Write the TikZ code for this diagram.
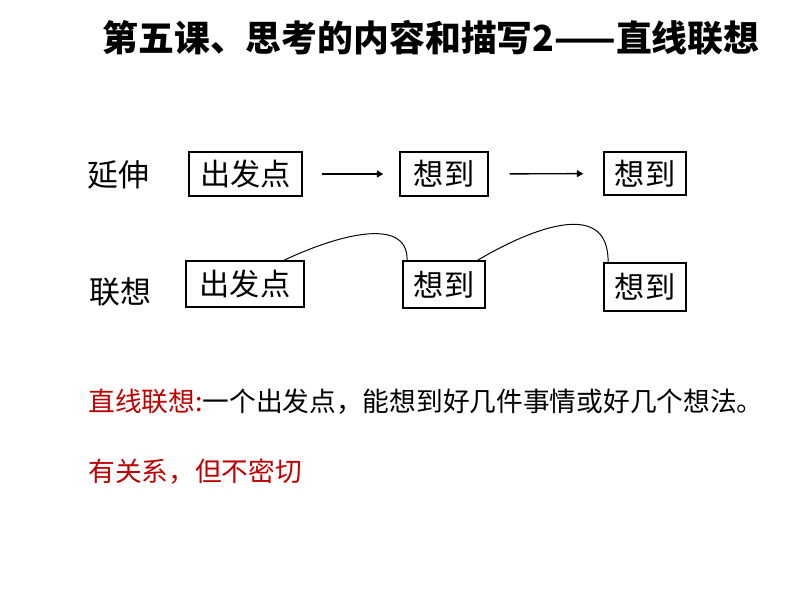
\documentclass[tikz,border=0pt]{standalone}
\usepackage{fontspec}
\usetikzlibrary{arrows.meta}
\newfontfamily\cjk{Noto Sans CJK SC}
\definecolor{linkred}{RGB}{192,0,0}

\begin{document}
\begin{tikzpicture}[x=0.025cm, y=-0.025cm,
	box/.style={draw, line width=1pt, inner sep=0pt, font=\cjk\fontsize{21.5}{21.5}\selectfont},
	rowlabel/.style={font=\cjk\fontsize{22}{22}\selectfont},
	note/.style={anchor=west, inner sep=0pt, font=\cjk\fontsize{19}{19}\selectfont},
	link/.style={line width=0.7pt},
	push/.style={-{Triangle[length=1.6mm,width=1.7mm]}, line width=1pt}]
	\useasboundingbox (0,0) rectangle (800,600);

	\node[font=\cjk\bfseries\fontsize{25.5}{25.5}\selectfont] at (431,38) (title) {第五课、思考的内容和描写2——直线联想};

	% Zeile 1
	\node[rowlabel] at (118,175) (ext) {延伸};
	\node[box, minimum width=2.83cm, minimum height=1.1cm] at (245.5,174) (s1) {出发点};
	\node[box, minimum width=2.2cm, minimum height=1.1cm] at (444,174) (a1) {想到};
	\node[box, minimum width=2.05cm, minimum height=1.08cm] at (645,173.5) (b1) {想到};

	\draw[push, shorten <=0.47cm, shorten >=0.4cm] (s1) -- (a1);
	\draw[push, shorten <=0.52cm, shorten >=0.5cm] (a1) -- (b1);

	% Zeile 2
	\node[rowlabel] at (120,292) (assoc) {联想};
	\node[box, minimum width=2.95cm, minimum height=1.15cm] at (245,284) (s2) {出发点};
	\node[box, minimum width=2.05cm, minimum height=1.18cm] at (444,284.5) (a2) {想到};
	\node[box, minimum width=2.05cm, minimum height=1.2cm] at (645,287) (b2) {想到};

	\draw[link] ([xshift=-0.52cm]s2.north east) .. controls (335,236) and (408,215) .. ([xshift=0.12cm]a2.north west);
	\draw[link] ([xshift=-0.2cm]a2.north east) .. controls (525,232) and (609,195) .. ([xshift=0.12cm]b2.north west);

	\node[note] at (88,402) (def) {\textcolor{linkred}{直线联想:}一个出发点，能想到好几件事情或好几个想法。};
	\node[note, text=linkred] at (88,472) (rel) {有关系，但不密切};
\end{tikzpicture}
\end{document}
